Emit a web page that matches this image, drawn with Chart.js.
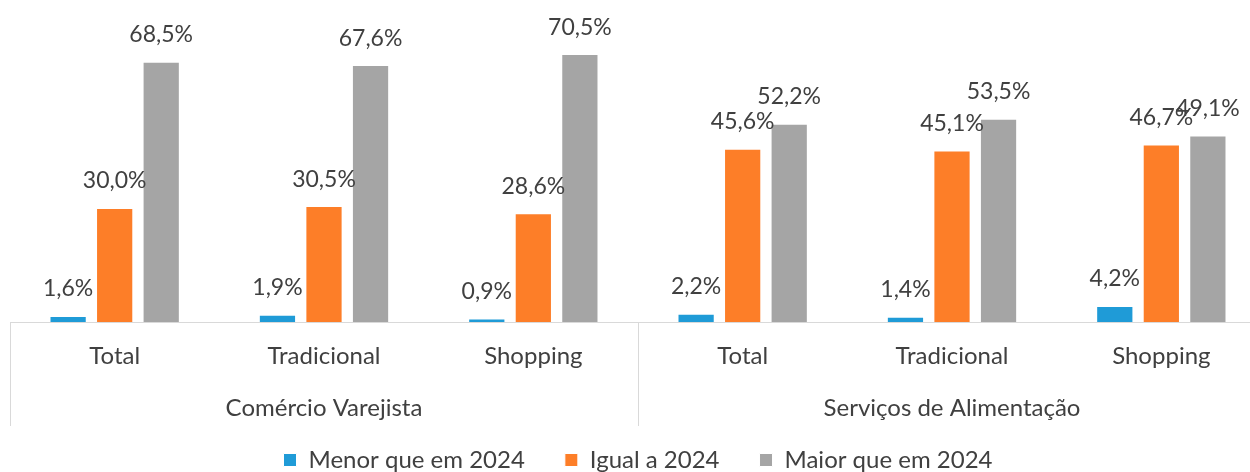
<!DOCTYPE html>
<html>
<head>
<meta charset="utf-8">
<script src="https://cdn.jsdelivr.net/npm/chart.js@4.4.1/dist/chart.umd.min.js"></script>
<style>
  html, body { margin: 0; padding: 0; background: #fff; overflow: hidden; }
  #wrap { width: 1266px; height: 482px; }
</style>
</head>
<body>
<div id="wrap"><canvas id="barChart" width="1266" height="482"></canvas></div>
<script>
// Dados do gráfico
const categorias = ['Total', 'Tradicional', 'Shopping', 'Total', 'Tradicional', 'Shopping'];
const grupos = ['Comércio Varejista', 'Serviços de Alimentação'];
const menorQue2024 = [1.6, 1.9, 0.9, 2.2, 1.4, 4.2];
const igualA2024 = [30.0, 30.5, 28.6, 45.6, 45.1, 46.7];
const maiorQue2024 = [68.5, 67.6, 70.5, 52.2, 53.5, 49.1];

const corTexto = '#404040';
const fonte = 'Lato, "Open Sans", sans-serif';

function fmt(v) {
    return v.toFixed(1).replace('.', ',') + '%';
}

// Rótulos, eixo e separadores de grupo
const rotulosPlugin = {
    id: 'rotulos',
    afterDraw(chart) {
        const ctx = chart.ctx;
        const x = chart.scales.x;
        const area = chart.chartArea;
        const base = area.bottom;

        ctx.save();
        // linha do eixo
        ctx.strokeStyle = '#d9d9d9';
        ctx.lineWidth = 1;
        ctx.beginPath();
        ctx.moveTo(x.getPixelForValue(-0.5), base + 0.5);
        ctx.lineTo(area.right, base + 0.5);
        ctx.stroke();

        // separadores verticais
        [-0.5, 2.5, 5.5].forEach(v => {
            const px = Math.round(x.getPixelForValue(v)) + 0.5;
            ctx.beginPath();
            ctx.moveTo(px, base);
            ctx.lineTo(px, base + 104);
            ctx.stroke();
        });

        ctx.fillStyle = corTexto;
        ctx.textAlign = 'center';
        ctx.textBaseline = 'middle';
        ctx.font = '24px ' + fonte;
        categorias.forEach((c, i) => {
            ctx.fillText(c, x.getPixelForValue(i), base + 34);
        });
        grupos.forEach((g, i) => {
            ctx.fillText(g, x.getPixelForValue(i * 3 + 1), base + 86);
        });

        // valores acima das barras
        ctx.font = '23px ' + fonte;
        chart.data.datasets.forEach((ds, di) => {
            const meta = chart.getDatasetMeta(di);
            meta.data.forEach((bar, i) => {
                ctx.fillText(fmt(ds.data[i]), bar.x, bar.y - 27);
            });
        });
        ctx.restore();
    }
};

const ctx = document.getElementById('barChart').getContext('2d');
const barChart = new Chart(ctx, {
    type: 'bar',
    data: {
        labels: categorias,
        datasets: [{
            label: 'Menor que em 2024',
            data: menorQue2024,
            backgroundColor: '#1f9bd7',
            borderColor: '#ffffff',
            borderWidth: 1
        }, {
            label: 'Igual a 2024',
            data: igualA2024,
            backgroundColor: '#fd7e28',
            borderColor: '#ffffff',
            borderWidth: 1
        }, {
            label: 'Maior que em 2024',
            data: maiorQue2024,
            backgroundColor: '#a5a5a5',
            borderColor: '#ffffff',
            borderWidth: 1
        }]
    },
    options: {
        responsive: false,
        animation: false,
        layout: { padding: { top: 18, left: 10, right: 0, bottom: 0 } },
        datasets: {
            bar: { categoryPercentage: 0.667, barPercentage: 0.8 }
        },
        scales: {
            x: {
                grid: { display: false },
                border: { display: false },
                ticks: { display: false },
                afterFit(scale) { scale.height = 86; }
            },
            y: {
                display: false,
                min: 0,
                max: 80
            }
        },
        plugins: {
            tooltip: { enabled: false },
            legend: {
                position: 'bottom',
                labels: {
                    color: corTexto,
                    font: { family: fonte, size: 24 },
                    boxWidth: 13,
                    boxHeight: 13,
                    padding: 40
                }
            }
        }
    },
    plugins: [rotulosPlugin]
});
</script>
</body>
</html>
